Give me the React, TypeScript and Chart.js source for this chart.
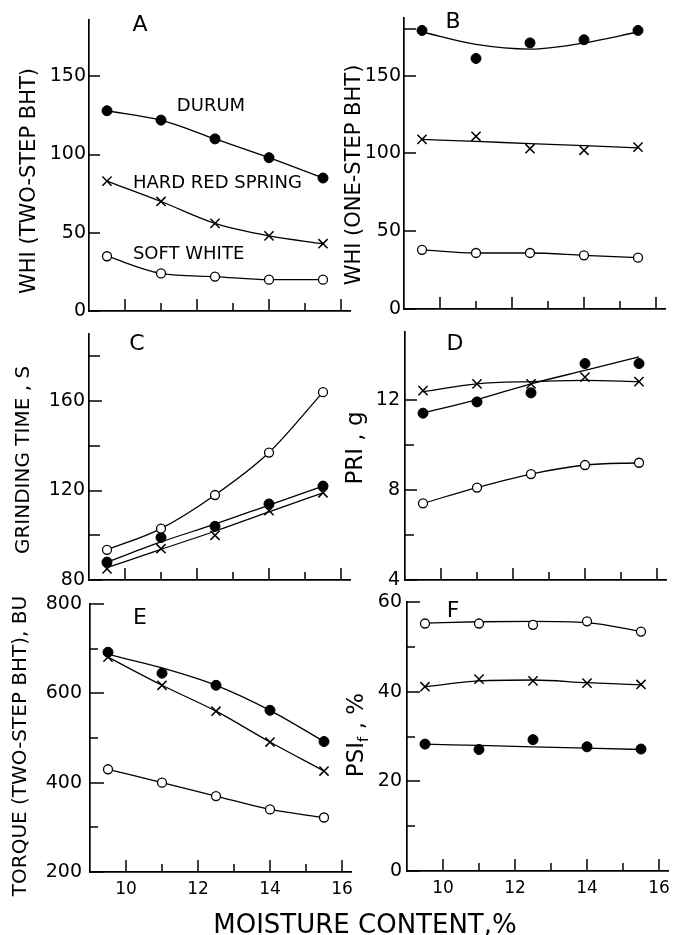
import React, { useEffect, useRef } from 'react';
import { Chart, registerables } from 'chart.js';

Chart.register(...registerables);

const FONT = '"DejaVu Sans", "Liberation Sans", sans-serif';
const FONT_WEIGHT = 'normal';

// ---------- shared x axis ----------
const MOISTURE = [9.5, 11, 12.5, 14, 15.5];
const X_MIN = 9;
const X_MAX = 16.25;
const X_MAJOR_TICKS = [10, 12, 14, 16];
const X_MINOR_TICKS = [11, 13, 15];
const X_TITLE = 'MOISTURE CONTENT,%';

// ---------- panel A : WHI (two-step BHT) ----------
const A_DURUM = [128, 122, 110, 98, 85];
const A_HRS = [83, 70, 56, 48, 43];
const A_SW = [35, 24, 22, 20, 20];
const A_Y_TICKS = [0, 50, 100, 150];
const A_Y_MINOR: number[] = [];

// ---------- panel B : WHI (one-step BHT) ----------
const B_DURUM = [179, 161, 171, 173, 179];
const B_DURUM_FIT = [178, 170, 167, 171, 178];
const B_HRS = [109, 111, 103, 102, 104];
const B_HRS_FIT = [109, 107.7, 106.3, 105, 103.6];
const B_SW = [38, 36, 36, 34.5, 33];
const B_Y_TICKS = [0, 50, 100, 150];
const B_Y_MINOR = [180];

// ---------- panel C : grinding time ----------
const C_DURUM = [88, 99, 104, 114, 122];
const C_DURUM_FIT = [88, 97, 105, 113.5, 122];
const C_HRS = [85, 94, 100, 111, 119];
const C_HRS_FIT = [85.5, 93.7, 101.8, 110.5, 119];
const C_SW = [93.5, 103, 118, 137, 164];
const C_Y_TICKS = [80, 120, 160];
const C_Y_MINOR = [100, 140, 180];

// ---------- panel D : PRI ----------
const D_DURUM = [11.4, 11.9, 12.3, 13.6, 13.6];
const D_DURUM_FIT = [11.4, 12.0, 12.7, 13.3, 13.9];
const D_HRS = [12.4, 12.7, 12.7, 13.0, 12.8];
const D_HRS_FIT = [12.35, 12.7, 12.8, 12.85, 12.8];
const D_SW = [7.4, 8.1, 8.7, 9.1, 9.2];
const D_Y_TICKS = [4, 8, 12];
const D_Y_MINOR = [6, 10];

// ---------- panel E : torque ----------
const E_DURUM = [692, 645, 618, 562, 492];
const E_DURUM_FIT = [687, 657, 618, 562, 492];
const E_HRS = [681, 618, 560, 491, 426];
const E_SW = [430, 400, 370, 340, 322];
const E_Y_TICKS = [200, 400, 600, 800];
const E_Y_MINOR = [300, 500, 700];

// ---------- panel F : PSIf ----------
const F_SW = [55.2, 55.2, 54.9, 55.7, 53.4];
const F_SW_FIT = [55.3, 55.6, 55.7, 55.4, 53.4];
const F_HRS = [41.1, 42.8, 42.4, 41.9, 41.6];
const F_HRS_FIT = [41.1, 42.4, 42.6, 42.0, 41.5];
const F_DURUM = [28.3, 27.1, 29.3, 27.7, 27.2];
const F_DURUM_FIT = [28.3, 28.0, 27.7, 27.4, 27.1];
const F_Y_TICKS = [0, 20, 40, 60];
const F_Y_MINOR = [10, 30, 50];

// series labels in panel A (data coordinates)
const A_NOTES = [
  { text: 'DURUM', x: 11.44, y: 131 },
  { text: 'HARD RED SPRING', x: 10.22, y: 81.5 },
  { text: 'SOFT WHITE', x: 10.22, y: 36 },
];

type Kind = 'durum' | 'hrs' | 'sw';
type Series = { kind: Kind; values: number[]; fit?: number[] };
type Seg = { text: string; sub?: boolean };
interface Panel {
  key: string;
  letter: string;
  letterPos: [number, number];
  canvas: { l: number; t: number; w: number; h: number };
  area: { l: number; t: number; r: number; b: number };
  yMin: number;
  yMax: number;
  yTicks: number[];
  yMinor: number[];
  yTickLen: number;
  yMinorLen: number;
  yLabelGap: number;
  showXLabels: boolean;
  series: Series[];
  title: Seg[];
  titlePos: [number, number];
  titleSize: number;
  notes?: { text: string; x: number; y: number }[];
}

const PANELS: Panel[] = [
  {
    key: 'A', letter: 'A', letterPos: [140, 25],
    canvas: { l: 0, t: 0, w: 362, h: 330 },
    area: { l: 89, t: 20, r: 350, b: 311 },
    yMin: 0, yMax: 186, yTicks: A_Y_TICKS, yMinor: A_Y_MINOR,
    yTickLen: 11, yMinorLen: 8, yLabelGap: 3, showXLabels: false,
    series: [
      { kind: 'durum', values: A_DURUM },
      { kind: 'hrs', values: A_HRS },
      { kind: 'sw', values: A_SW },
    ],
    title: [{ text: 'WHI (TWO-STEP BHT)' }], titlePos: [30, 181], titleSize: 21,
    notes: A_NOTES,
  },
  {
    key: 'B', letter: 'B', letterPos: [453, 22],
    canvas: { l: 340, t: 0, w: 336, h: 330 },
    area: { l: 404, t: 18, r: 665, b: 309 },
    yMin: 0, yMax: 187, yTicks: B_Y_TICKS, yMinor: B_Y_MINOR,
    yTickLen: 12, yMinorLen: 12, yLabelGap: 3, showXLabels: false,
    series: [
      { kind: 'durum', values: B_DURUM, fit: B_DURUM_FIT },
      { kind: 'hrs', values: B_HRS, fit: B_HRS_FIT },
      { kind: 'sw', values: B_SW },
    ],
    title: [{ text: 'WHI (ONE-STEP BHT)' }], titlePos: [355, 175], titleSize: 21,
  },
  {
    key: 'C', letter: 'C', letterPos: [137, 344],
    canvas: { l: 0, t: 318, w: 362, h: 276 },
    area: { l: 89, t: 334, r: 350, b: 580 },
    yMin: 80, yMax: 190, yTicks: C_Y_TICKS, yMinor: C_Y_MINOR,
    yTickLen: 13, yMinorLen: 11, yLabelGap: 4, showXLabels: false,
    series: [
      { kind: 'sw', values: C_SW },
      { kind: 'durum', values: C_DURUM, fit: C_DURUM_FIT },
      { kind: 'hrs', values: C_HRS, fit: C_HRS_FIT },
    ],
    title: [{ text: 'GRINDING TIME , S' }], titlePos: [23.5, 460], titleSize: 20,
  },
  {
    key: 'D', letter: 'D', letterPos: [455, 344],
    canvas: { l: 340, t: 318, w: 336, h: 276 },
    area: { l: 405, t: 332, r: 666, b: 580 },
    yMin: 4, yMax: 15, yTicks: D_Y_TICKS, yMinor: D_Y_MINOR,
    yTickLen: 12, yMinorLen: 9, yLabelGap: 5, showXLabels: false,
    series: [
      { kind: 'hrs', values: D_HRS, fit: D_HRS_FIT },
      { kind: 'durum', values: D_DURUM, fit: D_DURUM_FIT },
      { kind: 'sw', values: D_SW },
    ],
    title: [{ text: 'PRI , g' }], titlePos: [356, 448], titleSize: 23,
  },
  {
    key: 'E', letter: 'E', letterPos: [140, 618],
    canvas: { l: 0, t: 588, w: 362, h: 347 },
    area: { l: 90, t: 604, r: 351, b: 872 },
    yMin: 200, yMax: 800, yTicks: E_Y_TICKS, yMinor: E_Y_MINOR,
    yTickLen: 14, yMinorLen: 8, yLabelGap: 8, showXLabels: true,
    series: [
      { kind: 'durum', values: E_DURUM, fit: E_DURUM_FIT },
      { kind: 'hrs', values: E_HRS },
      { kind: 'sw', values: E_SW },
    ],
    title: [{ text: 'TORQUE (TWO-STEP BHT), BU' }], titlePos: [21, 746], titleSize: 20,
  },
  {
    key: 'F', letter: 'F', letterPos: [453, 611],
    canvas: { l: 340, t: 588, w: 336, h: 347 },
    area: { l: 407, t: 602, r: 668, b: 871 },
    yMin: 0, yMax: 60, yTicks: F_Y_TICKS, yMinor: F_Y_MINOR,
    yTickLen: 13, yMinorLen: 8, yLabelGap: 5, showXLabels: true,
    series: [
      { kind: 'sw', values: F_SW, fit: F_SW_FIT },
      { kind: 'hrs', values: F_HRS, fit: F_HRS_FIT },
      { kind: 'durum', values: F_DURUM, fit: F_DURUM_FIT },
    ],
    title: [{ text: 'PSI' }, { text: 'f', sub: true }, { text: ' , %' }], titlePos: [357, 735], titleSize: 23,
  },
];

const X_MAJOR_LEN = 12;
const X_MINOR_LEN = 8;

function markerStyle(kind: Kind) {
  if (kind === 'durum') {
    return { pointStyle: 'circle', pointRadius: 5, pointBackgroundColor: '#000', pointBorderColor: '#000', pointBorderWidth: 1 };
  }
  if (kind === 'hrs') {
    return { pointStyle: 'crossRot', pointRadius: 6.5, pointBackgroundColor: '#000', pointBorderColor: '#000', pointBorderWidth: 1.5 };
  }
  return { pointStyle: 'circle', pointRadius: 4.5, pointBackgroundColor: '#fff', pointBorderColor: '#000', pointBorderWidth: 1.3 };
}

function fontStr(size: number) {
  return `${FONT_WEIGHT} ${size}px ${FONT}`;
}

function drawRotatedTitle(ctx: CanvasRenderingContext2D, segs: Seg[], cx: number, cy: number, size: number) {
  ctx.save();
  ctx.translate(cx, cy);
  ctx.rotate(-Math.PI / 2);
  ctx.textAlign = 'left';
  ctx.textBaseline = 'middle';
  const fonts = segs.map((s) => fontStr(s.sub ? size * 0.65 : size));
  let total = 0;
  const widths = segs.map((s, i) => {
    ctx.font = fonts[i];
    const w = ctx.measureText(s.text).width;
    total += w;
    return w;
  });
  let x = -total / 2;
  segs.forEach((s, i) => {
    ctx.font = fonts[i];
    ctx.fillText(s.text, x, s.sub ? size * 0.32 : 0);
    x += widths[i];
  });
  ctx.restore();
}

function drawInnerTicks(chart: any, p: Panel) {
  const ctx: CanvasRenderingContext2D = chart.ctx;
  const xs = chart.scales.x;
  const ys = chart.scales.y;
  const a = chart.chartArea;
  ctx.save();
  ctx.strokeStyle = '#000';
  ctx.lineWidth = 1.5;
  ctx.lineCap = 'butt';
  const xTick = (v: number, len: number) => {
    const px = Math.round(xs.getPixelForValue(v));
    ctx.beginPath();
    ctx.moveTo(px, a.bottom);
    ctx.lineTo(px, a.bottom - len);
    ctx.stroke();
  };
  const yTick = (v: number, len: number) => {
    const py = Math.round(ys.getPixelForValue(v));
    ctx.beginPath();
    ctx.moveTo(a.left, py);
    ctx.lineTo(a.left + len, py);
    ctx.stroke();
  };
  X_MAJOR_TICKS.forEach((v) => xTick(v, X_MAJOR_LEN));
  X_MINOR_TICKS.forEach((v) => xTick(v, X_MINOR_LEN));
  p.yTicks.forEach((v) => yTick(v, p.yTickLen));
  p.yMinor.forEach((v) => yTick(v, p.yMinorLen));
  ctx.restore();
}

function buildConfig(p: Panel): any {
  const datasets: any[] = [];
  p.series.forEach((s) => {
    const src = s.fit ?? s.values;
    datasets.push({
      data: src.map((v, i) => ({ x: MOISTURE[i], y: v })),
      showLine: true,
      borderColor: '#000',
      borderWidth: 1.3,
      pointRadius: 0,
      pointHoverRadius: 0,
      cubicInterpolationMode: 'monotone',
      order: 1,
    });
  });
  p.series.forEach((s) => {
    datasets.push({
      data: s.values.map((v, i) => ({ x: MOISTURE[i], y: v })),
      showLine: false,
      ...markerStyle(s.kind),
      order: 0,
    });
  });

  const yW = p.area.l - p.canvas.l;
  const xH = p.canvas.t + p.canvas.h - p.area.b;

  const scales: any = {
    x: {
      type: 'linear', position: 'bottom', min: X_MIN, max: X_MAX, bounds: 'data',
      afterBuildTicks: (s: any) => { s.ticks = X_MAJOR_TICKS.map((v) => ({ value: v })); },
      afterFit: (s: any) => { s.height = xH; s.paddingLeft = 0; s.paddingRight = 0; s.paddingTop = 0; s.paddingBottom = 0; },
      ticks: {
        display: p.showXLabels, autoSkip: false, padding: 7, color: '#000',
        font: { family: FONT, size: 17, weight: FONT_WEIGHT },
        callback: (v: any) => String(v),
      },
      grid: { display: true, drawOnChartArea: false, drawTicks: false, color: '#000' },
      border: { display: true, color: '#000', width: 1.7 },
    },
    y: {
      type: 'linear', position: 'left', min: p.yMin, max: p.yMax, bounds: 'data',
      afterBuildTicks: (s: any) => { s.ticks = p.yTicks.map((v) => ({ value: v })); },
      afterFit: (s: any) => { s.width = yW; s.paddingLeft = 0; s.paddingRight = 0; s.paddingTop = 0; s.paddingBottom = 0; },
      ticks: {
        display: true, autoSkip: false, padding: p.yLabelGap, color: '#000',
        font: { family: FONT, size: 19, weight: FONT_WEIGHT },
        callback: (v: any) => String(v),
      },
      grid: { display: true, drawOnChartArea: false, drawTicks: false, color: '#000' },
      border: { display: true, color: '#000', width: 1.7 },
    },
  };

  const decor = {
    id: 'decor' + p.key,
    afterDraw(chart: any) {
      const ctx: CanvasRenderingContext2D = chart.ctx;
      drawInnerTicks(chart, p);
      ctx.save();
      ctx.fillStyle = '#000';
      // panel letter
      ctx.font = fontStr(22);
      ctx.textAlign = 'center';
      ctx.textBaseline = 'middle';
      ctx.fillText(p.letter, p.letterPos[0] - p.canvas.l, p.letterPos[1] - p.canvas.t);
      // y title
      drawRotatedTitle(ctx, p.title, p.titlePos[0] - p.canvas.l, p.titlePos[1] - p.canvas.t, p.titleSize);
      // series labels
      if (p.notes) {
        ctx.font = fontStr(18);
        ctx.textAlign = 'left';
        ctx.textBaseline = 'middle';
        const xs = chart.scales.x;
        const ys = chart.scales.y;
        p.notes.forEach((n) => {
          ctx.fillText(n.text, xs.getPixelForValue(n.x), ys.getPixelForValue(n.y));
        });
      }
      ctx.restore();
    },
  };

  return {
    type: 'scatter',
    data: { datasets },
    options: {
      animation: false,
      responsive: false,
      maintainAspectRatio: false,
      devicePixelRatio: 1,
      events: [],
      layout: {
        padding: {
          left: 0,
          top: p.area.t - p.canvas.t,
          right: p.canvas.l + p.canvas.w - p.area.r,
          bottom: 0,
        },
      },
      plugins: { legend: { display: false }, tooltip: { enabled: false }, title: { display: false } },
      scales,
    },
    plugins: [decor],
  };
}

function PanelChart({ p }: { p: Panel }) {
  const ref = useRef<HTMLCanvasElement>(null);
  useEffect(() => {
    const canvas = ref.current;
    if (!canvas) return;
    const chart = new Chart(canvas, buildConfig(p));
    return () => chart.destroy();
  }, [p]);
  return (
    <canvas
      ref={ref}
      width={p.canvas.w}
      height={p.canvas.h}
      style={{ position: 'absolute', left: p.canvas.l, top: p.canvas.t, width: p.canvas.w, height: p.canvas.h }}
    />
  );
}

export default function App() {
  Chart.defaults.font.family = FONT;
  Chart.defaults.color = '#000';
  return (
    <div style={{ position: 'absolute', left: 0, top: 0, width: 676, height: 935, background: '#fff', overflow: 'hidden' }}>
      {PANELS.map((p) => (
        <PanelChart key={p.key} p={p} />
      ))}
      <div
        style={{
          position: 'absolute', left: 55, width: 620, top: 911, textAlign: 'center',
          fontFamily: FONT, fontWeight: 'normal', fontSize: 26, lineHeight: '26px', color: '#000', whiteSpace: 'nowrap',
        }}
      >
        {X_TITLE}
      </div>
    </div>
  );
}
